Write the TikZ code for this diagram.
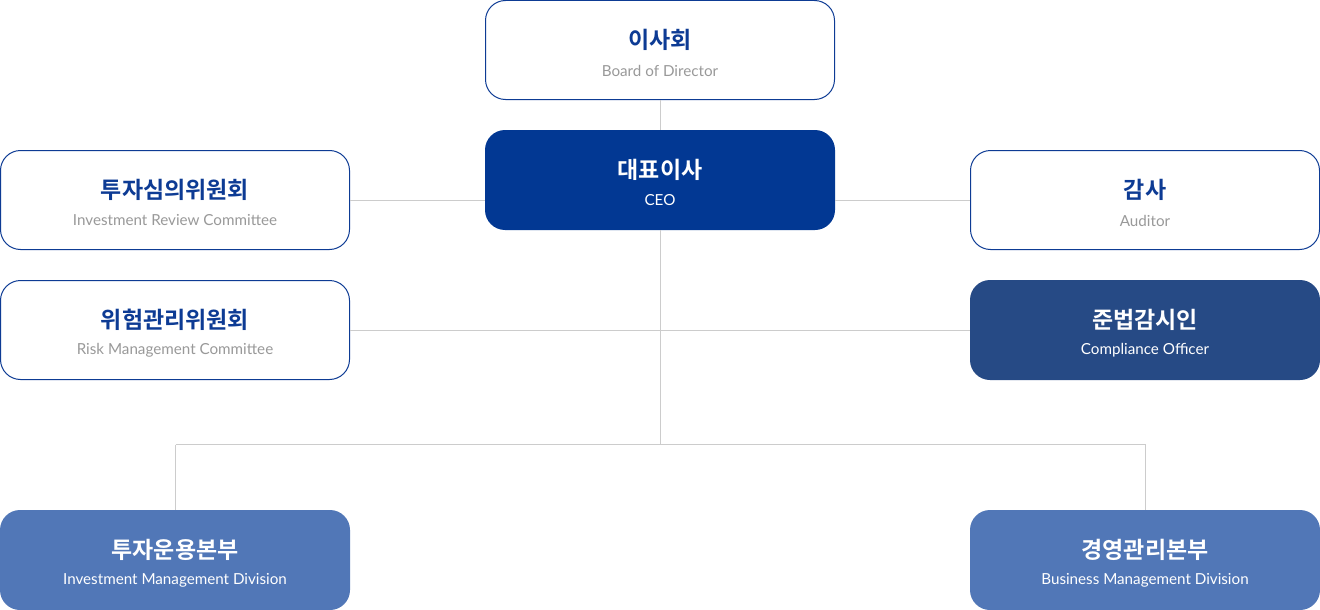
\documentclass[tikz,border=0pt]{standalone}
\usepackage{fontspec}
\setmainfont{Lato}
\newfontfamily\kofont{Noto Sans CJK KR}[BoldFont={* Bold}]
\definecolor{navy}{HTML}{023893}
\definecolor{bordc}{HTML}{0D3B94}
\definecolor{comp}{HTML}{264A85}
\definecolor{divc}{HTML}{5177B7}
\definecolor{linec}{HTML}{CCCCCC}
\definecolor{subg}{HTML}{999999}
\begin{document}
\begin{tikzpicture}[x=1pt,y=-1pt,
  boxw/.style={rounded corners=20pt, minimum width=349pt, minimum height=99pt, draw=bordc, line width=1pt, fill=white, inner sep=0pt},
  boxf/.style={rounded corners=20pt, minimum width=350pt, minimum height=100pt, fill=#1, draw=none, inner sep=0pt},
  kot/.style={font=\kofont\bfseries\fontsize{23}{25}\selectfont, text=#1, inner sep=0pt},
  ent/.style={font=\fontsize{15.2}{17}\selectfont, text=#1, inner sep=0pt},
  conn/.style={draw=linec, line width=1pt}]
\useasboundingbox (0,0) rectangle (1320,610);
% connector joints
\coordinate (j2) at (660,444.5);
\coordinate (jl) at (175.5,444.5);
\coordinate (jr) at (1145.5,444.5);
% boxes
\node[boxw] (bod) at (660,50) {};
\node[boxf=navy] (ceo) at (660,180) {};
\node[boxw] (irc) at (175,200) {};
\node[boxw] (aud) at (1145,200) {};
\node[boxw] (rmc) at (175,330) {};
\node[boxf=comp] (cco) at (1145,330) {};
\node[boxf=divc] (imd) at (175,560) {};
\node[boxf=divc] (bmd) at (1145,560) {};
% connectors
\draw[conn] (bod.south) -- (ceo.north);
\draw[conn] (ceo.south) -- (j2);
\draw[conn] (irc.east) -- (ceo.west |- irc.east);
\draw[conn] (aud.west) -- (ceo.east |- aud.west);
\draw[conn] (rmc.east) -- (cco.west);
\draw[conn] (jl) -- (jr);
\draw[conn] (jl) -- (imd.north -| jl);
\draw[conn] (jr) -- (bmd.north -| jr);
% texts
\node[kot=bordc] (t1) at ([yshift=10pt]bod.center) {이사회};
\node[ent=subg] (e1) at ([yshift=-20.5pt]bod.center) {Board of Director};
\node[kot=white] (t2) at ([yshift=10pt]ceo.center) {대표이사};
\node[ent=white] (e2) at ([yshift=-20.5pt]ceo.center) {CEO};
\node[kot=bordc] (t3) at ([yshift=10pt]irc.center) {투자심의위원회};
\node[ent=subg] (e3) at ([yshift=-20.5pt]irc.center) {Investment Review Committee};
\node[kot=bordc] (t4) at ([yshift=10pt]aud.center) {감사};
\node[ent=subg] (e4) at ([yshift=-20.5pt]aud.center) {Auditor};
\node[kot=bordc] (t5) at ([yshift=10pt]rmc.center) {위험관리위원회};
\node[ent=subg] (e5) at ([yshift=-20.5pt]rmc.center) {Risk Management Committee};
\node[kot=white] (t6) at ([yshift=10pt]cco.center) {준법감시인};
\node[ent=white] (e6) at ([yshift=-20.5pt]cco.center) {Compliance Officer};
\node[kot=white] (t7) at ([yshift=10pt]imd.center) {투자운용본부};
\node[ent=white] (e7) at ([yshift=-20.5pt]imd.center) {Investment Management Division};
\node[kot=white] (t8) at ([yshift=10pt]bmd.center) {경영관리본부};
\node[ent=white] (e8) at ([yshift=-20.5pt]bmd.center) {Business Management Division};
\end{tikzpicture}
\end{document}
